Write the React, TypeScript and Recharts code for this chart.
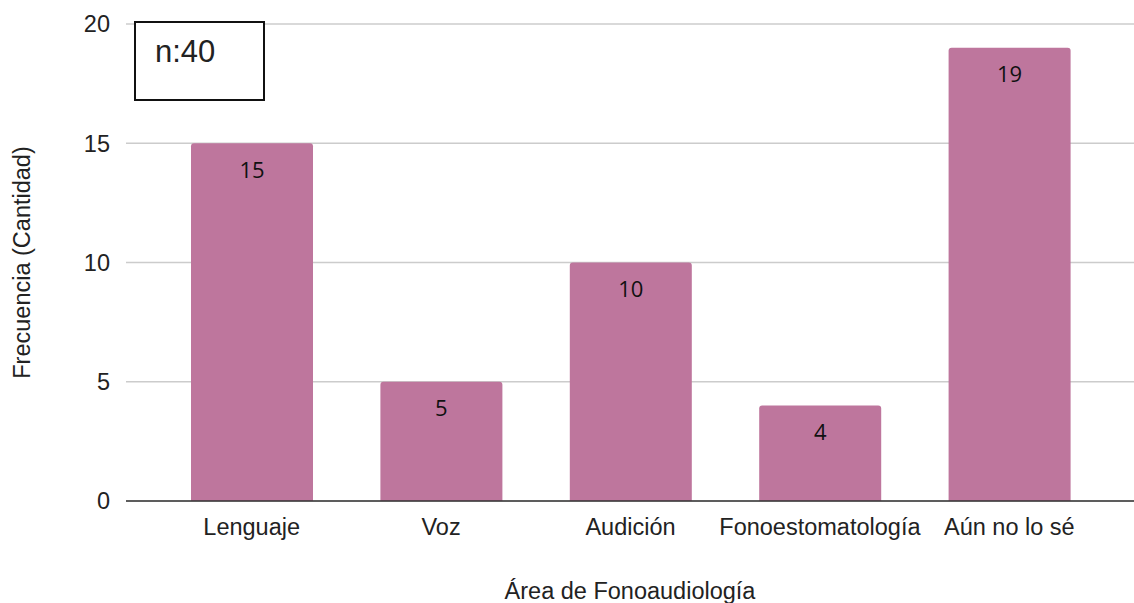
import { Bar, BarChart, CartesianGrid, LabelList, XAxis, YAxis } from "recharts";

const areas = ["Lenguaje", "Voz", "Audición", "Fonoestomatología", "Aún no lo sé"];
const counts = [15, 5, 10, 4, 19];
const yTicks = [0, 5, 10, 15, 20];

const data = areas.map((area, i) => ({ area, count: counts[i] }));

const FONT = "'Liberation Sans', Arial, sans-serif";
const textStyle = { fontSize: 23.5, fontFamily: FONT };

export default function App() {
  return (
    <div style={{ position: "absolute", left: 0, top: 0, width: 1134, height: 603, fontFamily: FONT }}>
      <BarChart
        width={1134}
        height={603}
        data={data}
        margin={{ top: 24, right: 0, bottom: 0, left: 0 }}
      >
        <CartesianGrid vertical={false} stroke="#cccccc" strokeWidth={1.5} />
        <XAxis
          dataKey="area"
          height={102}
          padding={{ left: 31, right: 30 }}
          tickLine={false}
          axisLine={{ stroke: "#333333", strokeWidth: 1.5 }}
          tick={{ fill: "#222222", style: textStyle }}
          tickMargin={11}
          interval={0}
          label={{
            value: "Área de Fonoaudiología",
            position: "insideBottom",
            offset: 4,
            fill: "#222222",
            style: textStyle
          }}
        />
        <YAxis
          width={126}
          domain={[0, 20]}
          ticks={yTicks}
          tickLine={false}
          axisLine={false}
          tick={{ fill: "#222222", style: textStyle }}
          tickMargin={10}
          label={{
            value: "Frecuencia (Cantidad)",
            angle: -90,
            position: "insideLeft",
            offset: 22,
            fill: "#222222",
            style: { ...textStyle, textAnchor: "middle" }
          }}
        />
        <Bar dataKey="count" fill="#be769d" barSize={122} radius={[3, 3, 0, 0]} isAnimationActive={false}>
          <LabelList
            dataKey="count"
            position="insideTop"
            offset={19}
            fill="#111111"
            style={{ fontSize: 22, fontFamily: "'Open Sans', sans-serif" }}
          />
        </Bar>
      </BarChart>
      <div
        style={{
          position: "absolute",
          left: 134,
          top: 21,
          width: 127,
          height: 76,
          border: "2px solid #111",
          background: "#fff",
          boxSizing: "content-box"
        }}
      >
        <span
          style={{
            position: "absolute",
            left: 19,
            top: 11,
            fontSize: 31,
            lineHeight: "normal",
            color: "#222",
            fontFamily: FONT
          }}
        >
          n:40
        </span>
      </div>
    </div>
  );
}
